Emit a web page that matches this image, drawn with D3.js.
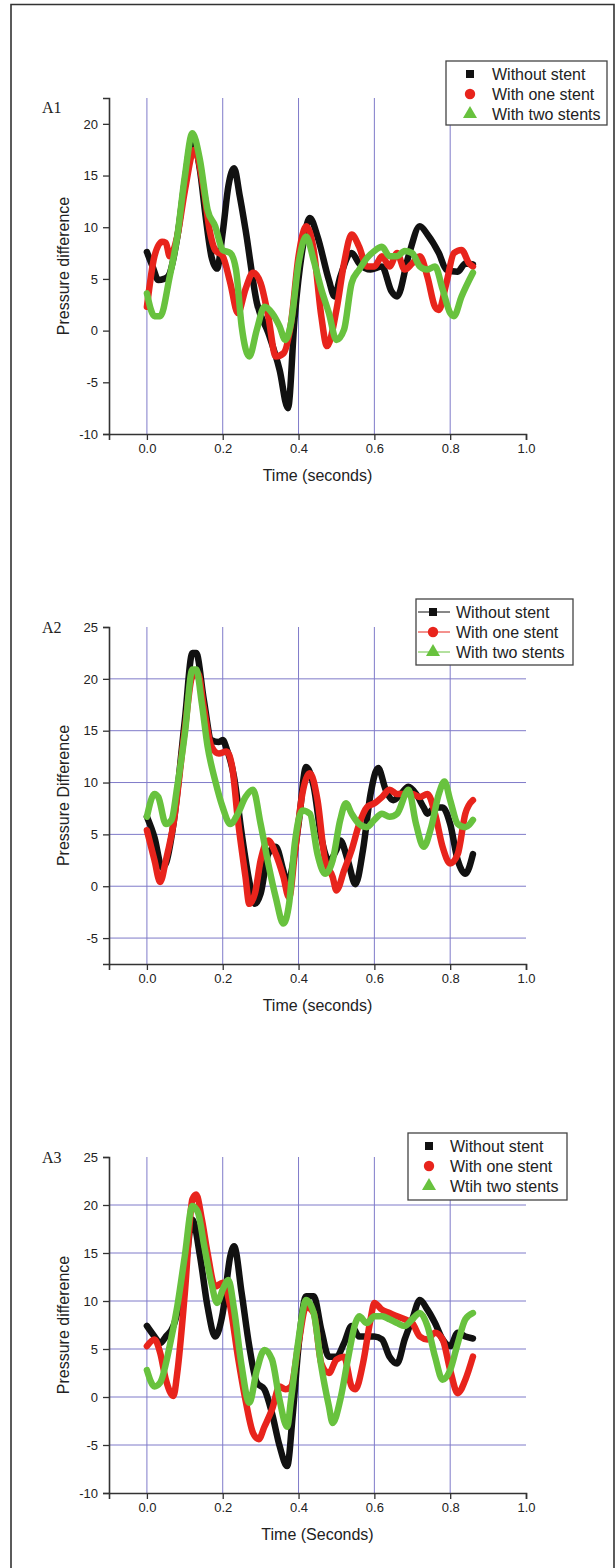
<!DOCTYPE html>
<html>
<head>
<meta charset="utf-8">
<script src="https://cdn.jsdelivr.net/npm/d3@7"></script>
<style>
  body { margin: 0; background: #fff; }
  svg { display: block; }
  text { font-family: "Liberation Sans", Arial, sans-serif; fill: #222; }
</style>
</head>
<body>
<svg id="chart" width="615" height="1568"></svg>
<script>
// ---- data (time in seconds, pressure difference) ----
const seriesNames = ["Without stent", "With one stent", "With two stents"];
const seriesNamesA3 = ["Without stent", "With one stent", "Wtih two stents"];
const seriesColors = ["#111111", "#e8241c", "#68c23e"];

const xTicks = [0.0, 0.2, 0.4, 0.6, 0.8, 1.0];

const a1Black = [[0,7.6],[0.015,6.2],[0.03,4.9],[0.045,5.0],[0.057,5.3],[0.08,9.0],[0.1,14.5],[0.12,18.6],[0.14,15.5],[0.155,11],[0.17,7.2],[0.185,6.0],[0.2,9.5],[0.215,14],[0.23,15.7],[0.245,13],[0.26,9.8],[0.29,2.7],[0.32,-0.2],[0.35,-3.8],[0.372,-7.5],[0.39,1.4],[0.41,7.8],[0.43,10.9],[0.45,9.1],[0.48,4.9],[0.495,3.3],[0.51,5.2],[0.54,7.5],[0.56,6.5],[0.59,5.9],[0.62,6.2],[0.645,3.8],[0.66,3.3],[0.69,7.2],[0.72,10.1],[0.74,9.3],[0.77,7.5],[0.79,5.9],[0.82,5.7],[0.84,6.5],[0.86,6.4]];
const a1Red = [[0,2.3],[0.02,7.2],[0.04,8.6],[0.05,8.5],[0.06,7.2],[0.08,9.1],[0.1,13.5],[0.125,17.5],[0.15,13.6],[0.165,9.8],[0.18,7.8],[0.2,7.2],[0.22,4.6],[0.24,1.7],[0.26,4.0],[0.28,5.6],[0.3,4.6],[0.32,1.4],[0.34,-2.5],[0.36,-2.2],[0.38,0.7],[0.4,7.2],[0.42,10.1],[0.44,7.8],[0.46,1.4],[0.475,-1.5],[0.5,2.0],[0.52,6.5],[0.54,9.3],[0.56,8.1],[0.58,6.2],[0.6,6.2],[0.62,7.2],[0.64,6.2],[0.66,7.5],[0.68,5.9],[0.7,6.5],[0.72,7.2],[0.74,5.2],[0.76,2.3],[0.77,2.0],[0.79,4.6],[0.81,7.5],[0.83,7.8],[0.85,6.5],[0.86,6.2]];
const a1Green = [[0,3.6],[0.02,1.4],[0.035,1.4],[0.06,5.2],[0.08,9.1],[0.1,14.9],[0.12,19.1],[0.14,16.5],[0.16,11.7],[0.18,10.1],[0.2,7.8],[0.22,7.5],[0.235,5.9],[0.25,0.4],[0.27,-2.5],[0.29,0.1],[0.31,2.3],[0.33,1.7],[0.35,0.4],[0.365,-0.9],[0.38,0.7],[0.4,6.5],[0.42,9.1],[0.44,6.8],[0.46,4.0],[0.48,1.7],[0.5,-0.9],[0.52,0.1],[0.54,4.6],[0.56,5.9],[0.58,7.0],[0.6,7.7],[0.62,8.1],[0.64,7.2],[0.66,7.2],[0.68,7.7],[0.7,7.5],[0.72,6.2],[0.74,5.9],[0.76,6.2],[0.78,4.0],[0.8,1.7],[0.81,1.4],[0.83,3.3],[0.86,5.6]];

const a2Black = [[0,6.7],[0.02,4.7],[0.04,1.8],[0.05,2.2],[0.07,6.0],[0.1,16.0],[0.12,22.5],[0.13,22.5],[0.15,18.0],[0.17,14.1],[0.19,13.9],[0.2,14.1],[0.21,13.3],[0.23,10.5],[0.25,5.1],[0.27,0.5],[0.285,-1.7],[0.3,-0.7],[0.32,3.1],[0.34,3.8],[0.36,1.5],[0.37,0.2],[0.38,1.2],[0.4,6.0],[0.42,11.5],[0.44,9.6],[0.46,4.7],[0.48,2.5],[0.5,3.5],[0.51,4.4],[0.53,2.5],[0.55,0.2],[0.57,3.5],[0.59,8.9],[0.61,11.4],[0.63,9.3],[0.65,8.3],[0.67,8.9],[0.69,9.6],[0.71,8.9],[0.73,7.6],[0.74,7.0],[0.76,7.6],[0.78,7.6],[0.8,6.0],[0.82,2.5],[0.84,1.2],[0.86,3.1]];
const a2Red = [[0,5.4],[0.02,2.5],[0.035,0.4],[0.05,2.5],[0.07,6.0],[0.1,15.1],[0.12,20.2],[0.135,20.5],[0.15,17.3],[0.17,13.5],[0.19,12.8],[0.21,13.0],[0.225,11.5],[0.24,6.4],[0.26,0.9],[0.27,-1.7],[0.285,-0.7],[0.3,2.5],[0.32,4.4],[0.34,3.1],[0.36,0.9],[0.375,-1.1],[0.39,3.1],[0.41,8.9],[0.43,10.9],[0.45,8.3],[0.47,2.5],[0.49,0.9],[0.5,-0.4],[0.52,1.5],[0.54,3.5],[0.56,6.0],[0.58,7.6],[0.6,8.0],[0.62,8.6],[0.64,9.3],[0.66,8.9],[0.68,8.9],[0.7,8.9],[0.72,8.6],[0.74,8.9],[0.76,7.0],[0.78,3.8],[0.8,2.2],[0.82,3.1],[0.84,7.0],[0.86,8.3]];
const a2Green = [[0,6.7],[0.02,8.9],[0.03,8.6],[0.05,6.0],[0.065,6.4],[0.08,9.6],[0.1,14.7],[0.12,20.9],[0.13,20.9],[0.145,17.6],[0.16,13.5],[0.18,10.2],[0.2,7.6],[0.22,6.0],[0.24,7.0],[0.26,8.6],[0.28,9.3],[0.3,6.0],[0.32,2.2],[0.34,-1.1],[0.36,-3.6],[0.375,-1.7],[0.39,4.1],[0.41,7.3],[0.43,7.0],[0.45,3.1],[0.47,1.2],[0.49,2.5],[0.51,6.4],[0.525,8.0],[0.54,7.0],[0.56,6.0],[0.58,5.7],[0.6,6.4],[0.62,7.0],[0.64,6.7],[0.66,7.0],[0.69,9.3],[0.71,6.0],[0.73,3.8],[0.75,5.7],[0.77,8.9],[0.785,10.1],[0.8,8.3],[0.82,6.0],[0.84,5.7],[0.86,6.4]];

const a3Black = [[0,7.4],[0.02,6.3],[0.035,5.6],[0.05,6.3],[0.07,7.4],[0.1,12.9],[0.12,18.5],[0.14,14.7],[0.16,9.4],[0.18,6.3],[0.2,8.75],[0.22,14.7],[0.23,15.7],[0.25,10.8],[0.27,5.3],[0.29,1.5],[0.31,0.8],[0.33,-1.7],[0.35,-5.1],[0.37,-7.2],[0.385,-1.7],[0.4,5.3],[0.42,10.5],[0.44,10.5],[0.46,7.0],[0.48,4.2],[0.5,4.2],[0.52,5.6],[0.54,7.4],[0.56,6.3],[0.58,6.3],[0.6,6.3],[0.62,6.0],[0.64,4.2],[0.66,3.5],[0.68,6.0],[0.7,8.1],[0.72,10.1],[0.74,9.1],[0.76,7.7],[0.78,6.0],[0.8,5.3],[0.82,6.7],[0.84,6.3],[0.86,6.1]];
const a3Red = [[0,5.3],[0.02,6.0],[0.035,4.6],[0.05,1.8],[0.07,0.1],[0.08,2.5],[0.1,10.8],[0.12,20.6],[0.13,21.1],[0.145,18.5],[0.16,15.0],[0.18,11.5],[0.2,11.9],[0.22,9.4],[0.24,4.2],[0.26,-0.3],[0.28,-3.75],[0.295,-4.4],[0.31,-3.1],[0.33,-1.3],[0.35,1.1],[0.365,0.8],[0.38,1.1],[0.4,5.6],[0.42,9.4],[0.44,8.75],[0.46,3.5],[0.48,2.5],[0.5,3.9],[0.52,4.2],[0.54,1.1],[0.55,0.8],[0.57,3.5],[0.59,8.1],[0.6,9.8],[0.62,9.1],[0.64,8.75],[0.66,8.4],[0.68,8.1],[0.7,7.7],[0.72,6.3],[0.74,6.0],[0.76,6.7],[0.78,6.0],[0.8,2.8],[0.82,0.4],[0.84,1.8],[0.86,4.2]];
const a3Green = [[0,2.8],[0.02,1.1],[0.035,1.5],[0.06,5.3],[0.08,9.4],[0.1,14.7],[0.12,19.9],[0.135,19.2],[0.15,16.0],[0.17,11.9],[0.185,9.8],[0.2,11.2],[0.215,12.2],[0.23,9.1],[0.25,3.2],[0.27,-0.6],[0.29,2.8],[0.31,4.9],[0.33,3.9],[0.35,-0.3],[0.37,-3.1],[0.38,-0.3],[0.4,6.0],[0.42,10.1],[0.44,8.75],[0.46,3.2],[0.48,-0.95],[0.49,-2.7],[0.51,-0.3],[0.53,3.9],[0.55,7.7],[0.56,8.4],[0.58,7.7],[0.6,8.4],[0.62,8.4],[0.64,8.1],[0.66,7.7],[0.68,7.4],[0.7,8.1],[0.72,8.75],[0.74,7.4],[0.76,4.2],[0.78,1.8],[0.8,2.8],[0.82,5.6],[0.84,8.1],[0.86,8.75]];

const panels = [
  { tag: "A1", yDomain: [-10, 22.5], yTicks: [-10, -5, 0, 5, 10, 15, 20], top: 98, bottom: 434, hGrid: false,
    xTitle: "Time (seconds)", yTitle: "Pressure difference", names: seriesNames,
    data: [a1Black, a1Red, a1Green], legend: { x: 446, y: 61, w: 161, h: 64, sym: 470, txt: 492, lines: false } },
  { tag: "A2", yDomain: [-7.5, 25], yTicks: [-5, 0, 5, 10, 15, 20, 25], top: 627, bottom: 964, hGrid: true,
    xTitle: "Time (seconds)", yTitle: "Pressure Difference", names: seriesNames,
    data: [a2Black, a2Red, a2Green], legend: { x: 416, y: 599, w: 157, h: 66, sym: 433, txt: 456, lines: true } },
  { tag: "A3", yDomain: [-10, 25], yTicks: [-10, -5, 0, 5, 10, 15, 20, 25], top: 1157, bottom: 1493, hGrid: true,
    xTitle: "Time (Seconds)", yTitle: "Pressure difference", names: seriesNamesA3,
    data: [a3Black, a3Red, a3Green], legend: { x: 408, y: 1133, w: 159, h: 67, sym: 429, txt: 450, lines: false } }
];

const svg = d3.select("#chart");

// page frame
svg.append("path")
  .attr("d", "M11,1568 L11,4.5 L614,4.5 L614,1568")
  .attr("fill", "none")
  .attr("stroke", "#333")
  .attr("stroke-width", 1.6);

const x = d3.scaleLinear().domain([-0.1, 1.0]).range([109, 526]);
const gridColor = "#7f7ac9";

function drawSymbol(g, i, cx, cy) {
  const types = [d3.symbolSquare, d3.symbolCircle, d3.symbolTriangle];
  const sizes = [64, 85, 85];
  g.append("path")
    .attr("d", d3.symbol().type(types[i]).size(sizes[i]))
    .attr("transform", `translate(${cx},${cy})`)
    .attr("fill", seriesColors[i]);
}

panels.forEach((p) => {
  const y = d3.scaleLinear().domain(p.yDomain).range([p.bottom, p.top]);
  const g = svg.append("g");

  // grid
  g.append("g").selectAll("line")
    .data(xTicks.filter((t) => t < 1))
    .join("line")
    .attr("x1", (d) => x(d)).attr("x2", (d) => x(d))
    .attr("y1", p.top).attr("y2", p.bottom)
    .attr("stroke", gridColor).attr("stroke-width", 1);
  if (p.hGrid) {
    g.append("g").selectAll("line")
      .data(p.yTicks.filter((t) => t > p.yDomain[0] && t < p.yDomain[1] && t < 25))
      .join("line")
      .attr("x1", x(-0.1)).attr("x2", x(1.0))
      .attr("y1", (d) => y(d)).attr("y2", (d) => y(d))
      .attr("stroke", gridColor).attr("stroke-width", 1);
  }

  // data lines (dense symbols in the original read as thick lines)
  const line = d3.line()
    .x((d) => x(d[0]))
    .y((d) => y(d[1]))
    .curve(d3.curveMonotoneX);
  p.data.forEach((s, i) => {
    g.append("path")
      .datum(s)
      .attr("d", line)
      .attr("fill", "none")
      .attr("stroke", seriesColors[i])
      .attr("stroke-width", 6.5)
      .attr("stroke-linejoin", "round")
      .attr("stroke-linecap", "round");
  });

  // x axis
  const xAxis = d3.axisBottom(x).tickValues(xTicks).tickFormat(d3.format(".1f")).tickSize(6).tickPadding(4);
  const xMinor = d3.axisBottom(x).tickValues(d3.range(-0.1, 1.0001, 0.1)).tickFormat("").tickSize(4);
  const gx = g.append("g").attr("transform", `translate(0,${p.bottom})`).call(xMinor);
  gx.call(xAxis);
  // y axis
  const yMinorVals = d3.range(p.yDomain[0], p.yDomain[1] + 0.01, 2.5);
  const yAxis = d3.axisLeft(y).tickValues(p.yTicks).tickFormat((d) => String(d)).tickSize(6).tickPadding(5);
  const yMinor = d3.axisLeft(y).tickValues(yMinorVals).tickFormat("").tickSize(4);
  const gy = g.append("g").attr("transform", `translate(${x(-0.1)},0)`).call(yMinor);
  gy.call(yAxis);

  [gx, gy].forEach((a) => {
    a.selectAll(".domain").attr("stroke", "#333").attr("stroke-width", 1.6);
    a.selectAll(".tick line").attr("stroke", "#333").attr("stroke-width", 1.3);
    a.selectAll(".tick text").attr("fill", "#222").style("font-size", "13px")
      .style("font-family", "'Liberation Sans', Arial, sans-serif");
  });

  // titles
  g.append("text")
    .attr("x", (x(-0.1) + x(1.0)) / 2)
    .attr("y", p.bottom + 47)
    .attr("text-anchor", "middle")
    .style("font-size", "16px")
    .text(p.xTitle);
  g.append("text")
    .attr("transform", `translate(63,${(p.top + p.bottom) / 2}) rotate(-90)`)
    .attr("text-anchor", "middle")
    .attr("dominant-baseline", "central")
    .style("font-size", "16px")
    .text(p.yTitle);
  g.append("text")
    .attr("x", 42)
    .attr("y", p.tag === "A1" ? 113 : p.top + 6)
    .style("font-family", "'Liberation Serif', 'Times New Roman', serif")
    .style("font-size", "16px")
    .text(p.tag);

  // legend
  const L = p.legend;
  const lg = g.append("g");
  lg.append("rect")
    .attr("x", L.x).attr("y", L.y).attr("width", L.w).attr("height", L.h)
    .attr("fill", "#fff").attr("stroke", "#444").attr("stroke-width", 1.3);
  p.names.forEach((name, i) => {
    const cy = L.y + 13 + i * 20;
    if (L.lines) {
      lg.append("line")
        .attr("x1", L.x + 2).attr("x2", L.sym + 17)
        .attr("y1", cy).attr("y2", cy)
        .attr("stroke", seriesColors[i]).attr("stroke-width", 1);
    }
    drawSymbol(lg, i, L.sym, cy);
    lg.append("text")
      .attr("x", L.txt).attr("y", cy)
      .attr("dominant-baseline", "central")
      .style("font-size", "16px")
      .text(name);
  });
});
</script>
</body>
</html>
